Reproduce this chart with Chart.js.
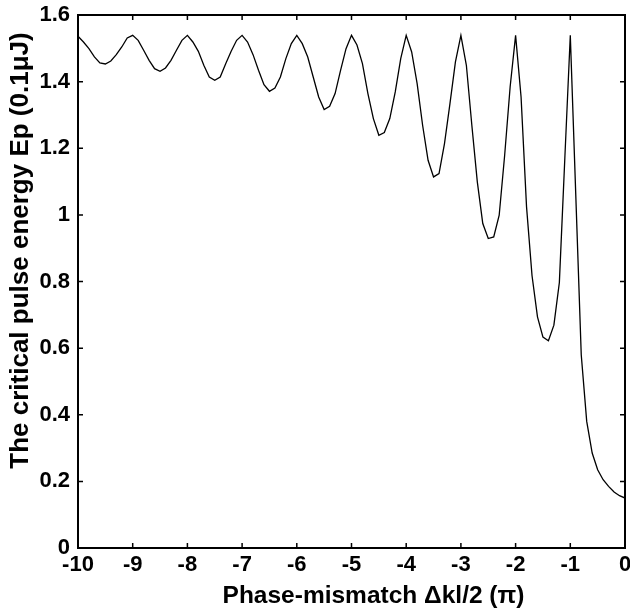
<!DOCTYPE html>
<html>
<head>
<meta charset="utf-8">
<script src="https://cdn.jsdelivr.net/npm/chart.js@4/dist/chart.umd.min.js"></script>
<style>
  html, body { margin: 0; padding: 0; background: #fff; }
  #wrap { width: 630px; height: 610px; }
</style>
</head>
<body>
<div id="wrap"><canvas id="pulseChart"></canvas></div>
<script>
// phase mismatch Δkl/2 (in units of π)
const phase = [
  -10.0, -9.9, -9.8, -9.7, -9.6, -9.5, -9.4, -9.3, -9.2, -9.1,
  -9.0, -8.9, -8.8, -8.7, -8.6, -8.5, -8.4, -8.3, -8.2, -8.1,
  -8.0, -7.9, -7.8, -7.7, -7.6, -7.5, -7.4, -7.3, -7.2, -7.1,
  -7.0, -6.9, -6.8, -6.7, -6.6, -6.5, -6.4, -6.3, -6.2, -6.1,
  -6.0, -5.9, -5.8, -5.7, -5.6, -5.5, -5.4, -5.3, -5.2, -5.1,
  -5.0, -4.9, -4.8, -4.7, -4.6, -4.5, -4.4, -4.3, -4.2, -4.1,
  -4.0, -3.9, -3.8, -3.7, -3.6, -3.5, -3.4, -3.3, -3.2, -3.1,
  -3.0, -2.9, -2.8, -2.7, -2.6, -2.5, -2.4, -2.3, -2.2, -2.1,
  -2.0, -1.9, -1.8, -1.7, -1.6, -1.5, -1.4, -1.3, -1.2, -1.1,
  -1.0, -0.9, -0.8, -0.7, -0.6, -0.5, -0.4, -0.3, -0.2, -0.1,
  0.0,
];
// critical pulse energy Ep (0.1 μJ)
const energy = [
  1.536, 1.519, 1.499, 1.474, 1.456, 1.453, 1.462, 1.481, 1.504, 1.531,
  1.539, 1.524, 1.494, 1.464, 1.439, 1.431, 1.441, 1.464, 1.494, 1.524,
  1.539, 1.519, 1.491, 1.449, 1.414, 1.404, 1.414, 1.454, 1.491, 1.524,
  1.539, 1.519, 1.481, 1.434, 1.391, 1.371, 1.381, 1.414, 1.469, 1.514,
  1.539, 1.514, 1.474, 1.414, 1.354, 1.316, 1.326, 1.364, 1.434, 1.499,
  1.539, 1.510, 1.454, 1.364, 1.289, 1.239, 1.247, 1.289, 1.369, 1.469,
  1.539, 1.489, 1.394, 1.269, 1.164, 1.114, 1.124, 1.214, 1.334, 1.459,
  1.539, 1.449, 1.269, 1.099, 0.974, 0.929, 0.934, 0.999, 1.179, 1.384,
  1.539, 1.354, 1.024, 0.818, 0.694, 0.633, 0.622, 0.669, 0.797, 1.170,
  1.539, 1.060, 0.580, 0.380, 0.285, 0.235, 0.205, 0.185, 0.168, 0.157,
  0.150,
];
const xTicks = [-10, -9, -8, -7, -6, -5, -4, -3, -2, -1, 0];
const yTicks = [0, 0.2, 0.4, 0.6, 0.8, 1, 1.2, 1.4, 1.6];
const yTickLabels = ['0', '0.2', '0.4', '0.6', '0.8', '1', '1.2', '1.4', '1.6'];
const xTitle = 'Phase-mismatch \u0394kl/2 (\u03c0)';
const yTitle = 'The critical pulse energy Ep (0.1\u03bcJ)';

const FONT = '"Liberation Sans", Arial, Helvetica, sans-serif';

// box round the plot, inward ticks on all four sides, axis titles
const frameTicks = {
  id: 'frameTicks',
  afterDatasetsDraw(chart) {
    const ctx = chart.ctx;
    const a = chart.chartArea;
    const sx = chart.scales.x;
    const sy = chart.scales.y;
    const len = 5;
    ctx.save();
    ctx.strokeStyle = '#000';
    ctx.lineWidth = 1.5;
    ctx.beginPath();
    xTicks.forEach((v) => {
      const px = sx.getPixelForValue(v);
      ctx.moveTo(px, a.bottom); ctx.lineTo(px, a.bottom - len);
      ctx.moveTo(px, a.top); ctx.lineTo(px, a.top + len);
    });
    yTicks.forEach((v) => {
      const py = sy.getPixelForValue(v);
      ctx.moveTo(a.left, py); ctx.lineTo(a.left + len, py);
      ctx.moveTo(a.right, py); ctx.lineTo(a.right - len, py);
    });
    ctx.stroke();
    ctx.lineWidth = 2;
    ctx.strokeRect(a.left, a.top, a.right - a.left, a.bottom - a.top);

    ctx.fillStyle = '#000';
    ctx.textAlign = 'center';
    ctx.textBaseline = 'alphabetic';
    ctx.font = 'bold 24.5px ' + FONT;
    ctx.fillText(xTitle, (a.left + a.right) / 2 + 22, 603);
    ctx.font = 'bold 26px ' + FONT;
    ctx.translate(28, (a.top + a.bottom) / 2 - 31);
    ctx.rotate(-Math.PI / 2);
    ctx.fillText(yTitle, 0, 0);
    ctx.restore();
  },
};

new Chart(document.getElementById('pulseChart'), {
  type: 'line',
  data: {
    datasets: [
      {
        data: phase.map((p, i) => ({ x: p, y: energy[i] })),
        borderColor: '#000',
        borderWidth: 1.3,
        pointRadius: 0,
        tension: 0,
        fill: false,
      },
    ],
  },
  options: {
    responsive: true,
    maintainAspectRatio: false,
    animation: false,
    layout: { padding: { top: 15, right: 5, left: 0, bottom: 0 } },
    plugins: { legend: { display: false }, tooltip: { enabled: false } },
    scales: {
      x: {
        type: 'linear',
        min: -10,
        max: 0,
        afterBuildTicks: (s) => { s.ticks = xTicks.map((v) => ({ value: v })); },
        afterFit: (s) => { s.height = 62; s.paddingLeft = 0; s.paddingRight = 0; },
        grid: { display: false, drawTicks: false },
        border: { display: false },
        ticks: {
          color: '#000',
          padding: 4,
          maxRotation: 0,
          autoSkip: false,
          font: { family: FONT, size: 22, weight: 'bold' },
        },
      },
      y: {
        min: 0,
        max: 1.6,
        afterBuildTicks: (s) => { s.ticks = yTicks.map((v) => ({ value: v })); },
        afterFit: (s) => { s.width = 78; s.paddingTop = 0; s.paddingBottom = 0; },
        grid: { display: false, drawTicks: false },
        border: { display: false },
        ticks: {
          color: '#000',
          padding: 8,
          autoSkip: false,
          font: { family: FONT, size: 22, weight: 'bold' },
          callback: (v) => yTickLabels[yTicks.indexOf(v)] ?? '',
        },
      },
    },
  },
  plugins: [frameTicks],
});
</script>
</body>
</html>
